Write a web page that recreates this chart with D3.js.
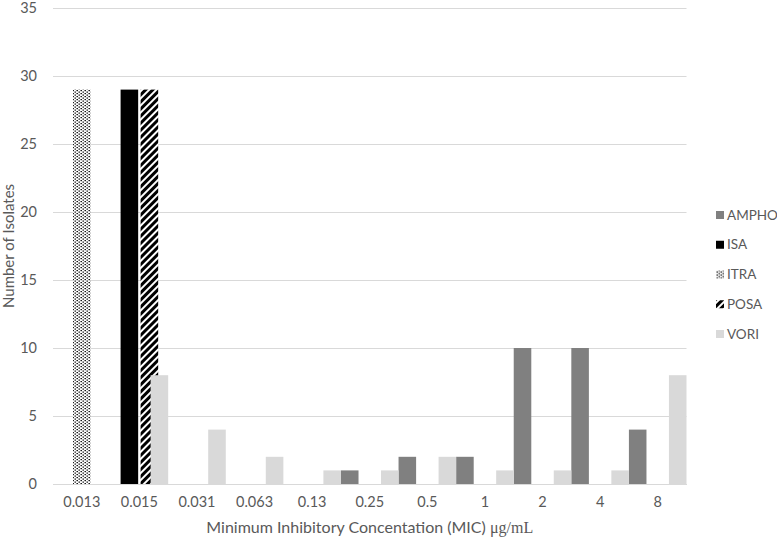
<!DOCTYPE html>
<html>
<head>
<meta charset="utf-8">
<script src="https://cdn.jsdelivr.net/npm/d3@7"></script>
<style>
  html, body { margin: 0; padding: 0; background: #fff; }
  svg { display: block; }
  text { font-family: Lato, "Open Sans", sans-serif; fill: #595959; }
</style>
</head>
<body>
<svg id="chart" width="777" height="542"></svg>
<script>
const categories = ["0.013", "0.015", "0.031", "0.063", "0.13", "0.25", "0.5", "1", "2", "4", "8"];
const seriesNames = ["AMPHO", "ISA", "ITRA", "POSA", "VORI"];
const ampho = [0, 0, 0, 0, 0, 1, 2, 2, 10, 10, 4];
const isa   = [0, 29, 0, 0, 0, 0, 0, 0, 0, 0, 0];
const itra  = [29, 0, 0, 0, 0, 0, 0, 0, 0, 0, 0];
const posa  = [0, 29, 0, 0, 0, 0, 0, 0, 0, 0, 0];
const vori  = [0, 8, 4, 2, 1, 1, 2, 1, 1, 1, 8];
const yTicks = [0, 5, 10, 15, 20, 25, 30, 35];

const seriesValues = { AMPHO: ampho, ISA: isa, ITRA: itra, POSA: posa, VORI: vori };

const svg = d3.select("#chart");
const defs = svg.append("defs");

// ITRA dotted pattern
const pDot = defs.append("pattern").attr("id", "pDot")
  .attr("patternUnits", "userSpaceOnUse").attr("width", 4).attr("height", 3);
pDot.append("rect").attr("width", 4).attr("height", 3).attr("fill", "#fff");
pDot.append("rect").attr("x", 0.5).attr("y", 0).attr("width", 1.4).attr("height", 1.2).attr("fill", "#000");
pDot.append("rect").attr("x", 2.5).attr("y", 1.5).attr("width", 1.4).attr("height", 1.2).attr("fill", "#000");

// POSA upward diagonal stripes
const pDiag = defs.append("pattern").attr("id", "pDiag")
  .attr("patternUnits", "userSpaceOnUse").attr("width", 5).attr("height", 5)
  .attr("patternTransform", "rotate(45)");
pDiag.append("rect").attr("width", 5).attr("height", 5).attr("fill", "#fff");
pDiag.append("rect").attr("x", 0).attr("y", 0).attr("width", 3).attr("height", 5).attr("fill", "#000");

const fills = { AMPHO: "#808080", ISA: "#000000", ITRA: "url(#pDot)", POSA: "url(#pDiag)", VORI: "#d9d9d9" };

const plot = { left: 53, right: 686.5, top: 8, bottom: 484 };

const x = d3.scaleBand().domain(categories).range([plot.left, plot.right]).paddingInner(0).paddingOuter(0);
const y = d3.scaleLinear().domain([0, 35]).range([plot.bottom, plot.top]);

const barW = x.bandwidth() * 0.305;
const xs = d3.scalePoint().domain(seriesNames).range([0, x.bandwidth() - barW]);

// gridlines + y labels
const yAxis = svg.append("g").attr("transform", `translate(${plot.left},0)`)
  .call(d3.axisLeft(y).tickValues(yTicks).tickSize(-(plot.right - plot.left)).tickPadding(16));
yAxis.select(".domain").remove();
yAxis.selectAll(".tick line").attr("stroke", "#d9d9d9").attr("stroke-width", 1);
yAxis.selectAll(".tick text").attr("font-size", 14.5).attr("fill", "#595959")
  .style("font-family", "Lato, sans-serif");

// bars
seriesNames.forEach(s => {
  svg.append("g").selectAll("rect")
    .data(categories.map((c, i) => ({ c, v: seriesValues[s][i] })).filter(d => d.v > 0))
    .join("rect")
    .attr("x", d => x(d.c) + xs(s))
    .attr("y", d => y(d.v))
    .attr("width", barW)
    .attr("height", d => y(0) - y(d.v))
    .attr("fill", fills[s]);
});

// x axis
const xAxis = svg.append("g").attr("transform", `translate(0,${plot.bottom})`)
  .call(d3.axisBottom(x).tickSize(0).tickPadding(13));
xAxis.select(".domain").attr("stroke", "#d9d9d9");
xAxis.selectAll(".tick text").attr("font-size", 14.5).attr("fill", "#595959")
  .style("font-family", "Lato, sans-serif");

// axis titles
const xt = svg.append("text")
  .attr("x", (plot.left + plot.right) / 2).attr("y", 533)
  .attr("text-anchor", "middle").attr("font-size", 16);
xt.append("tspan").text("Minimum Inhibitory Concentation (MIC) ");
xt.append("tspan").style("font-family", "'Liberation Serif', 'DejaVu Serif', serif").text("μg/mL");

svg.append("text")
  .attr("transform", `translate(14,${(plot.top + plot.bottom) / 2}) rotate(-90)`)
  .attr("text-anchor", "middle").attr("font-size", 15)
  .text("Number of Isolates");

// legend
const legY = d3.scalePoint().domain(seriesNames).range([215, 334]);
const leg = svg.append("g").selectAll("g").data(seriesNames).join("g")
  .attr("transform", d => `translate(716,${legY(d)})`);
leg.append("rect").attr("x", 0).attr("y", -4).attr("width", 8).attr("height", 8)
  .attr("fill", d => fills[d]);
leg.append("text").attr("x", 11).attr("y", 0).attr("dy", "0.35em")
  .attr("font-size", 13.5).text(d => d);
</script>
</body>
</html>
